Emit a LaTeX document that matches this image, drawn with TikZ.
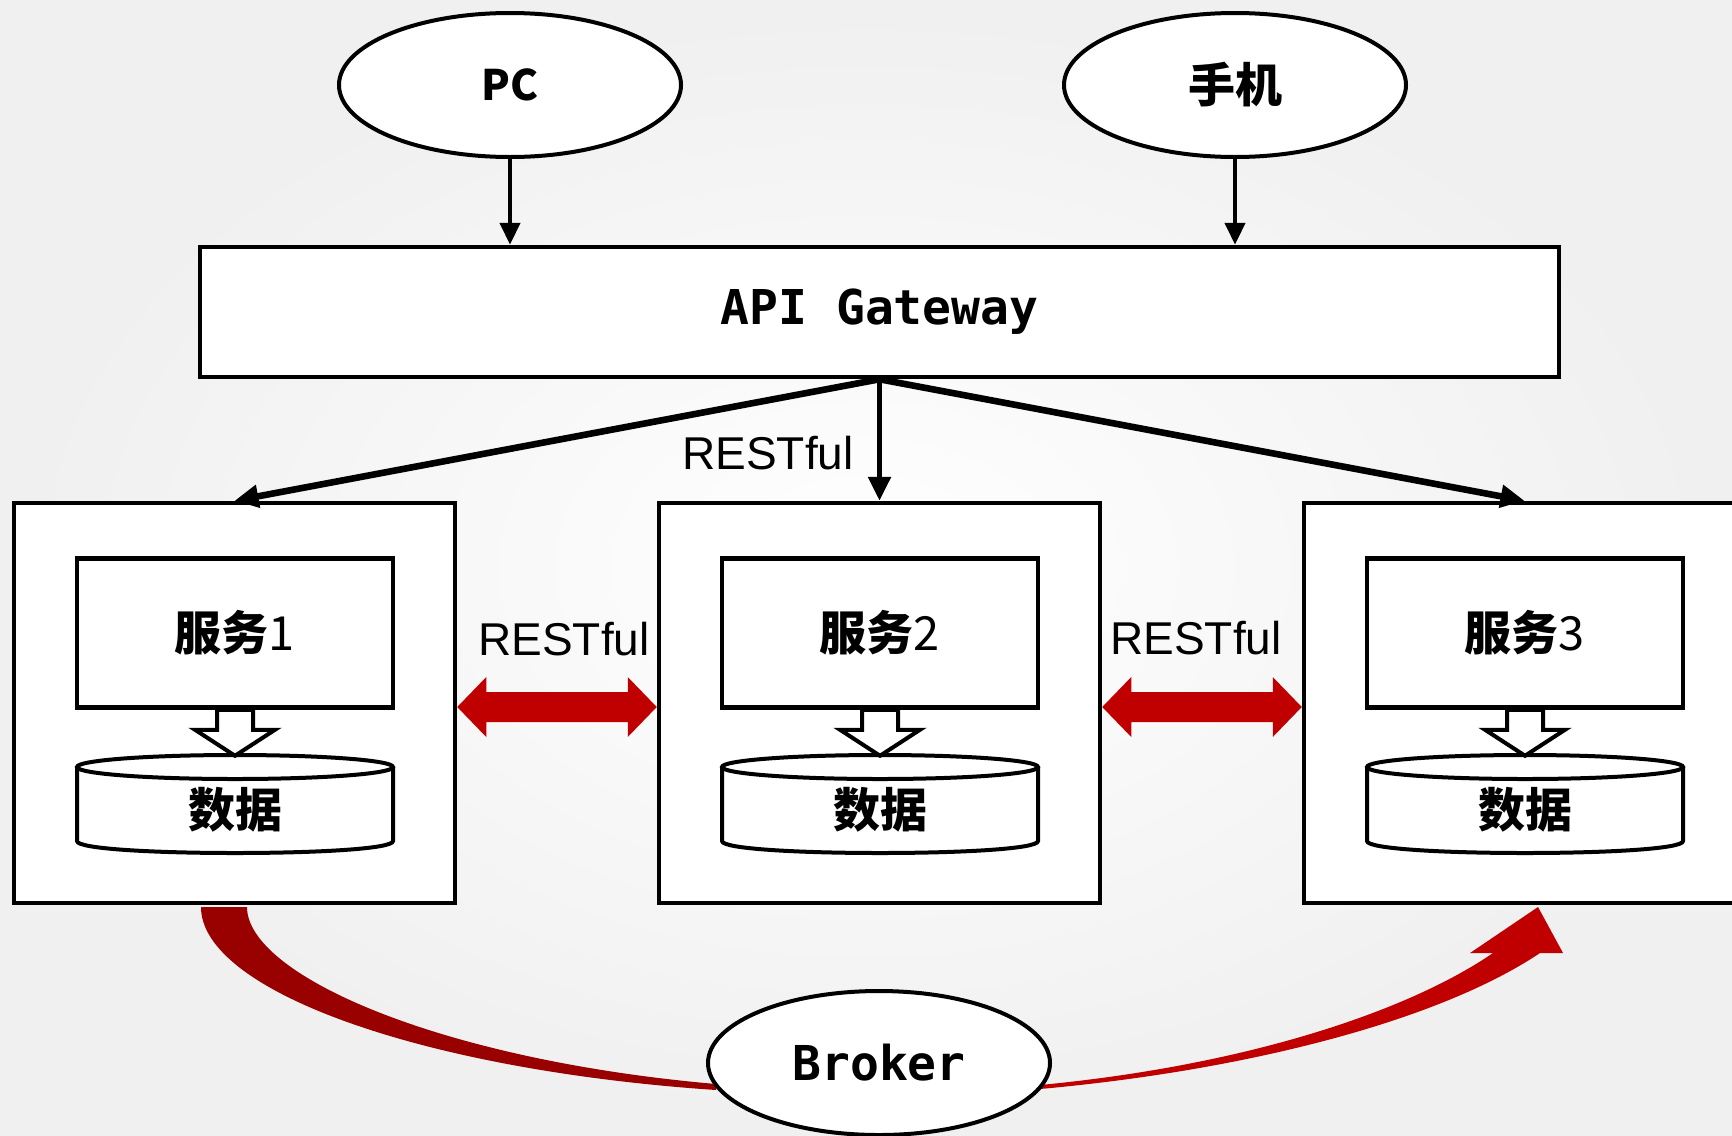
\documentclass[tikz,border=0pt]{standalone}
\usepackage{fontspec}
\newfontfamily\cjkfont{Noto Sans CJK SC}
\newfontfamily\gwmono{DejaVu Sans Mono}
\newfontfamily\arialfont{Liberation Sans}
\usetikzlibrary{shapes.geometric,arrows.meta,calc}
\definecolor{dred}{HTML}{990000}
\definecolor{bred}{HTML}{C00000}
\begin{document}
\begin{tikzpicture}[x=0.5pt,y=-0.5pt,
  ell/.style={ellipse, draw, line width=2pt, fill=white, minimum width=171pt, minimum height=72pt, inner sep=0pt},
  outerbox/.style={rectangle, draw, line width=2.25pt, fill=white, minimum width=220.5pt, minimum height=200pt},
  innerbox/.style={rectangle, draw, line width=2.25pt, fill=white, minimum width=158pt, minimum height=74.5pt},
  gwbox/.style={rectangle, draw, line width=2.25pt, fill=white, minimum width=679.5pt, minimum height=65pt},
  cjktext/.style={font=\cjkfont\bfseries\fontsize{23.5pt}{28pt}\selectfont},
  pctext/.style={font=\cjkfont\bfseries\fontsize{21pt}{25pt}\selectfont},
  monotext/.style={font=\gwmono\bfseries\fontsize{24pt}{28pt}\selectfont},
  rest/.style={font=\arialfont\fontsize{23pt}{27pt}\selectfont, inner sep=0pt},
  thinarrow/.style={line width=2.2pt, -{Triangle[length=11pt,width=10pt]}},
  gwarrow/.style={line width=3.3pt, -{Triangle[length=12pt,width=11pt]}},
  cyl/.style={line width=2pt, fill=white},
  hollow/.style={line width=2pt, fill=white, line join=miter},
]
\useasboundingbox (0,0) rectangle (1732,1135);
\clip (0,0) rectangle (1732,1135);
\shade[inner color=white, outer color=black!6] (0,0) rectangle (1732,1135);

% clients
\node[ell, pctext] (pc) at (510,85) {PC};
\node[ell, cjktext] (phone) at (1235,85) {手机};

% gateway
\node[gwbox, monotext] (gw) at (879.5,312) {\raisebox{-2pt}{API Gateway}};

\draw[thinarrow] (pc.south) -- (pc.south |- gw.north);
\draw[thinarrow] (phone.south) -- (phone.south |- gw.north);

% services
\foreach \k/\c in {1/235,2/880,3/1525}{
  \node[outerbox] (s\k) at (\c-0.5,703) {};
  \node[innerbox, cjktext] (i\k) at (\c,633) {服务{\mdseries\k}};
  \filldraw[cyl] (\c-158,767) -- (\c-158,841) .. controls (\c-158,857) and (\c+158,857) .. (\c+158,841) -- (\c+158,767);
  \filldraw[cyl] (\c,767) ellipse [x radius=158, y radius=12];
  \node[cjktext] (d\k) at (\c,810) {数据};
  \draw[hollow] ($(i\k.south)+(-18,0)$) -- ++(36,0) -- ++(0,20) -- ++(22,0) -- ++(-40,26) -- ++(-40,-26) -- ++(22,0) -- cycle;
}

% gateway to services
\draw[gwarrow] (gw.south) -- (s1.north);
\draw[gwarrow, line width=2.8pt] (gw.south) -- (s2.north);
\draw[gwarrow] (gw.south) -- (s3.north);
\node[rest] (r0) at (768,453) {RESTful};

% red double arrows between services
\foreach \a/\b in {1/2,2/3}{
  \coordinate (ra) at ($(s\a.east)+(0,4)$);
  \coordinate (rb) at ($(s\b.west)+(0,4)$);
  \fill[bred] (ra) -- ++(29,-30) -- ++(0,15) -- ($(rb)+(-29,-15)$) -- ++(0,-15) -- (rb) -- ++(-29,30) -- ++(0,-15) -- ($(ra)+(29,15)$) -- ++(0,15) -- cycle;
}
\node[rest] (r1) at (564,639) {RESTful};
\node[rest] (r2) at (1196,638) {RESTful};

% broker curves
\fill[dred] (201,907) .. controls (201,990) and (420,1070) .. (716,1090) -- (716,1084) .. controls (440,1060) and (247,975) .. (247,907) -- cycle;
\fill[bred] (1040,1089) .. controls (1250,1070) and (1440,1020) .. (1540,953) -- (1563,953) -- (1538,907) -- (1470,953) -- (1493,953) .. controls (1410,1010) and (1250,1065) .. (1040,1085) -- cycle;
\node[ell, monotext] (broker) at (879,1063) {Broker};
\end{tikzpicture}
\end{document}
